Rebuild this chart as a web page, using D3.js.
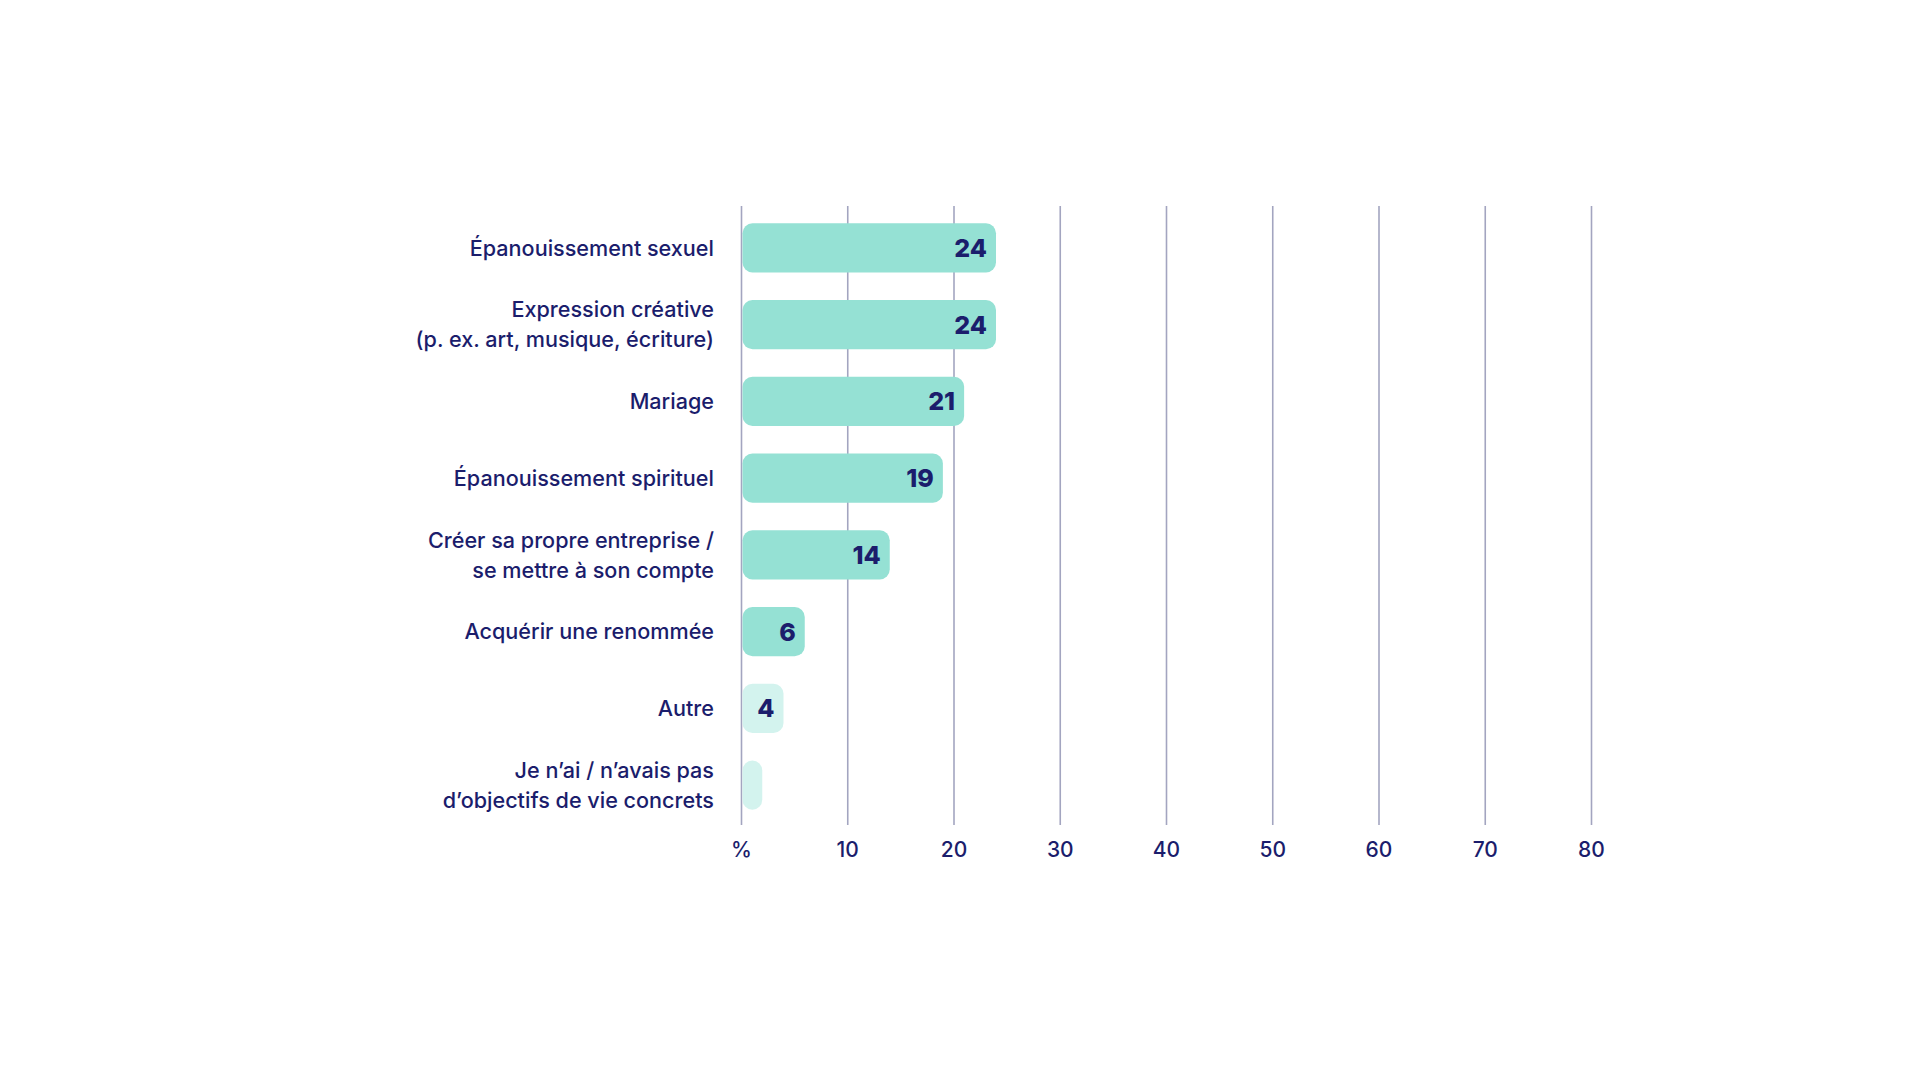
<!DOCTYPE html>
<html>
<head>
<meta charset="utf-8">
<script src="https://cdn.jsdelivr.net/npm/d3@7"></script>
<style>
  html, body { margin: 0; padding: 0; background: #ffffff; }
  svg { display: block; }
  text { font-family: Inter, "Noto Sans", sans-serif; }
</style>
</head>
<body>
<script>
// Data
const categories = [
  ["Épanouissement sexuel"],
  ["Expression créative", "(p. ex. art, musique, écriture)"],
  ["Mariage"],
  ["Épanouissement spirituel"],
  ["Créer sa propre entreprise /", "se mettre à son compte"],
  ["Acquérir une renommée"],
  ["Autre"],
  ["Je n’ai / n’avais pas", "d’objectifs de vie concrets"]
];
const values = [24, 24, 21, 19, 14, 6, 4, 2];
const showLabel = [true, true, true, true, true, true, true, false];
const lightBar = [false, false, false, false, false, false, true, true];
const tickValues = [0, 10, 20, 30, 40, 50, 60, 70, 80];
const tickLabels = ["%", "10", "20", "30", "40", "50", "60", "70", "80"];

const W = 1920, H = 1080;
const navy = "#1b1d6c";
const barColor = "#95e1d4";
const barLight = "#d3f3ee";
const gridColor = "#a3a5c0";

const svg = d3.select("body").append("svg").attr("width", W).attr("height", H);

const x = d3.scaleLinear().domain([0, 80]).range([741, 1591]);
const keys = categories.map((c, i) => i);
const y = d3.scaleBand().domain(keys).range([209.5, 823.5]).paddingInner(0.36).paddingOuter(0.18);

const gridTop = 206, gridBottom = 825;

// grid + axis
const axis = d3.axisBottom(x)
  .tickValues(tickValues)
  .tickSize(-(gridBottom - gridTop))
  .tickPadding(17)
  .tickFormat((d, i) => tickLabels[i]);

const ax = svg.append("g").attr("transform", `translate(0,${gridBottom})`).call(axis);
ax.select(".domain").remove();
ax.selectAll(".tick line").attr("stroke", gridColor).attr("stroke-width", 1.6);
ax.selectAll(".tick text")
  .attr("fill", navy)
  .attr("font-size", 21)
  .attr("font-weight", 500)
  .attr("font-family", "Inter, 'Noto Sans', sans-serif");

// bars
const r = 10;
svg.append("g").selectAll("rect").data(values).join("rect")
  .attr("x", x(0) + 1.5)
  .attr("y", (d, i) => y(i))
  .attr("width", d => x(d) - x(0) - 1.5)
  .attr("height", y.bandwidth())
  .attr("rx", r).attr("ry", r)
  .attr("fill", (d, i) => lightBar[i] ? barLight : barColor);

// value labels
values.forEach((v, i) => {
  if (!showLabel[i]) return;
  svg.append("text")
    .attr("x", x(v) - 9)
    .attr("y", y(i) + y.bandwidth() / 2)
    .attr("dy", "0.36em")
    .attr("text-anchor", "end")
    .attr("fill", navy)
    .attr("font-size", 25)
    .attr("font-weight", 800)
    .text(v);
});

// category labels
const lineH = 30;
categories.forEach((lines, i) => {
  const cy = y(i) + y.bandwidth() / 2;
  const t = svg.append("text")
    .attr("text-anchor", "end")
    .attr("fill", navy)
    .attr("font-size", 21.6)
    .attr("font-weight", 500);
  lines.forEach((ln, j) => {
    const off = (j - (lines.length - 1) / 2) * lineH;
    t.append("tspan")
      .attr("x", 714)
      .attr("y", cy + off)
      .attr("dy", "0.36em")
      .text(ln);
  });
});
</script>
</body>
</html>
